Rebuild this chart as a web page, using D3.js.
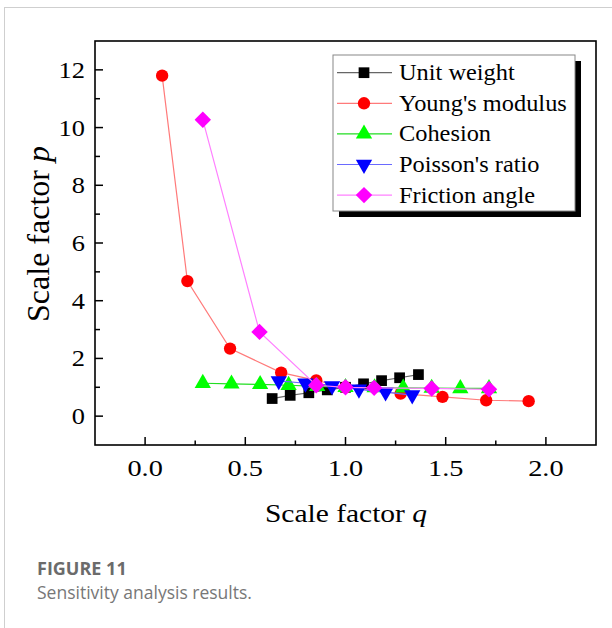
<!DOCTYPE html>
<html><head><meta charset="utf-8">
<script src="https://cdn.jsdelivr.net/npm/d3@7"></script>
<style>body{margin:0;background:#fff}</style>
</head><body><svg id="c" width="612" height="628"></svg>
<script>
// ---- data ----
const seriesNames = ["Unit weight", "Young's modulus", "Cohesion", "Poisson's ratio", "Friction angle"];
const unitWeightQ = [0.634, 0.724, 0.817, 0.909, 1.0, 1.09, 1.18, 1.27, 1.364];
const unitWeightP = [0.61, 0.72, 0.81, 0.91, 1.0, 1.12, 1.23, 1.33, 1.44];
const youngQ = [0.085, 0.211, 0.424, 0.679, 0.854, 1.0, 1.275, 1.484, 1.702, 1.914];
const youngP = [11.8, 4.68, 2.34, 1.51, 1.24, 1.0, 0.78, 0.67, 0.55, 0.52];
const cohesionQ = [0.288, 0.431, 0.574, 0.716, 0.859, 1.0, 1.145, 1.288, 1.43, 1.573, 1.716];
const cohesionP = [1.14, 1.12, 1.1, 1.07, 1.03, 1.0, 0.99, 0.98, 0.97, 0.96, 0.96];
const poissonQ = [0.667, 0.8, 0.933, 1.067, 1.2, 1.333];
const poissonP = [1.22, 1.14, 1.05, 0.93, 0.83, 0.73];
const frictionQ = [0.288, 0.571, 0.854, 1.0, 1.143, 1.43, 1.716];
const frictionP = [10.27, 2.92, 1.07, 1.0, 0.98, 0.96, 0.93];
const xTickValues = [0, 0.5, 1.0, 1.5, 2.0];
const xTickLabels = ["0.0", "0.5", "1.0", "1.5", "2.0"];
const yTickValues = [0, 2, 4, 6, 8, 10, 12];
const yTickLabels = ["0", "2", "4", "6", "8", "10", "12"];

const styles = [
  {line: "#666666", fill: "#000000", sym: d3.symbolSquare, size: 115, rot: 0},
  {line: "#ff7a7a", fill: "#ff0000", sym: d3.symbolCircle, size: 120, rot: 0},
  {line: "#22dd22", fill: "#00ff00", sym: d3.symbolTriangle, size: 115, rot: 0},
  {line: "#6a6aff", fill: "#0000ff", sym: d3.symbolTriangle, size: 115, rot: 180},
  {line: "#ff80ff", fill: "#ff00ff", sym: d3.symbolSquare, size: 135, rot: 45}
];
const series = [
  [unitWeightQ, unitWeightP], [youngQ, youngP], [cohesionQ, cohesionP],
  [poissonQ, poissonP], [frictionQ, frictionP]
].map((s, i) => ({name: seriesNames[i], pts: s[0].map((q, j) => ({q, p: s[1][j]})), st: styles[i]}));

const svg = d3.select("#c");
const L = 95, R = 596, T = 41, B = 445;
const x = d3.scaleLinear().domain([-0.25, 2.25]).range([L, R]);
const y = d3.scaleLinear().domain([-1, 13]).range([B, T]);
const serif = "'Liberation Serif','Times New Roman',serif";

// page border
svg.append("line").attr("x1", 4.5).attr("x2", 4.5).attr("y1", 7).attr("y2", 628).attr("stroke", "#cfcfcf");
svg.append("line").attr("x1", 4).attr("x2", 612).attr("y1", 7.5).attr("y2", 7.5).attr("stroke", "#cfcfcf");

// frame
svg.append("rect").attr("x", L).attr("y", T).attr("width", R - L).attr("height", B - T)
  .attr("fill", "none").attr("stroke", "#000").attr("stroke-width", 1.6);

// x axis ticks (inward)
const xMinor = d3.range(-0.25, 2.251, 0.25).filter(v => v > -0.2 && v < 2.2);
svg.append("g").selectAll("line").data(xMinor).join("line")
  .attr("x1", d => x(d)).attr("x2", d => x(d))
  .attr("y1", B).attr("y2", d => B - (Math.abs(d * 2 - Math.round(d * 2)) < 1e-6 ? 8 : 4.5))
  .attr("stroke", "#000").attr("stroke-width", 1.5);
const yMinor = d3.range(0, 12.01, 1);
svg.append("g").selectAll("line").data(yMinor).join("line")
  .attr("y1", d => y(d)).attr("y2", d => y(d))
  .attr("x1", L).attr("x2", d => L + (d % 2 === 0 ? 8 : 5))
  .attr("stroke", "#000").attr("stroke-width", 1.5);

// tick labels
svg.append("g").selectAll("text").data(xTickValues).join("text")
  .attr("transform", d => `translate(${x(d)},476) scale(1.18,1)`)
  .attr("text-anchor", "middle").attr("font-family", serif).attr("font-size", 24)
  .text((d, i) => xTickLabels[i]);
svg.append("g").selectAll("text").data(yTickValues).join("text")
  .attr("transform", d => `translate(85,${y(d) + 8}) scale(1.1,1)`)
  .attr("text-anchor", "end").attr("font-family", serif).attr("font-size", 24)
  .text((d, i) => yTickLabels[i]);

// axis titles
const xt = svg.append("text").attr("transform", "translate(346,522) scale(1.18,1)")
  .attr("text-anchor", "middle").attr("font-family", serif).attr("font-size", 25);
xt.append("tspan").text("Scale factor ");
xt.append("tspan").attr("font-style", "italic").text("q");
const yt = svg.append("text").attr("transform", "translate(49,234) rotate(-90)")
  .attr("text-anchor", "middle").attr("font-family", serif).attr("font-size", 32);
yt.append("tspan").text("Scale factor ");
yt.append("tspan").attr("font-style", "italic").text("p");

// series
const line = d3.line().x(d => x(d.q)).y(d => y(d.p));
series.forEach(s => {
  const g = svg.append("g");
  g.append("path").attr("d", line(s.pts)).attr("fill", "none").attr("stroke", s.st.line).attr("stroke-width", 1.2);
  g.selectAll("path.m").data(s.pts).join("path").attr("class", "m")
    .attr("transform", d => `translate(${x(d.q)},${y(d.p)}) rotate(${s.st.rot})`)
    .attr("d", d3.symbol().type(s.st.sym).size(s.st.size)())
    .attr("fill", s.st.fill);
});

// legend
const lg = svg.append("g");
lg.append("rect").attr("x", 339).attr("y", 61).attr("width", 242).attr("height", 156).attr("fill", "#000");
lg.append("rect").attr("x", 333).attr("y", 55).attr("width", 242).attr("height", 156)
  .attr("fill", "#fff").attr("stroke", "#888").attr("stroke-width", 1);
series.forEach((s, i) => {
  const cy = 72.7 + i * 30.6;
  lg.append("line").attr("x1", 337).attr("x2", 392).attr("y1", cy).attr("y2", cy)
    .attr("stroke", s.st.line).attr("stroke-width", 1.2);
  lg.append("path").attr("transform", `translate(364,${cy}) rotate(${s.st.rot})`)
    .attr("d", d3.symbol().type(s.st.sym).size(s.st.size)()).attr("fill", s.st.fill);
  lg.append("text").attr("transform", `translate(399,${cy + 7.5}) scale(1.06,1)`)
    .attr("font-family", serif).attr("font-size", 23).text(s.name);
});

// caption
svg.append("text").attr("x", 37).attr("y", 575).attr("font-family", "'Open Sans',sans-serif")
  .attr("font-weight", "bold").attr("font-size", 18).attr("fill", "#6b6b6b").text("FIGURE 11");
svg.append("text").attr("x", 37).attr("y", 599).attr("font-family", "'Open Sans',sans-serif")
  .attr("font-size", 17.5).attr("fill", "#777").text("Sensitivity analysis results.");
</script></body></html>
